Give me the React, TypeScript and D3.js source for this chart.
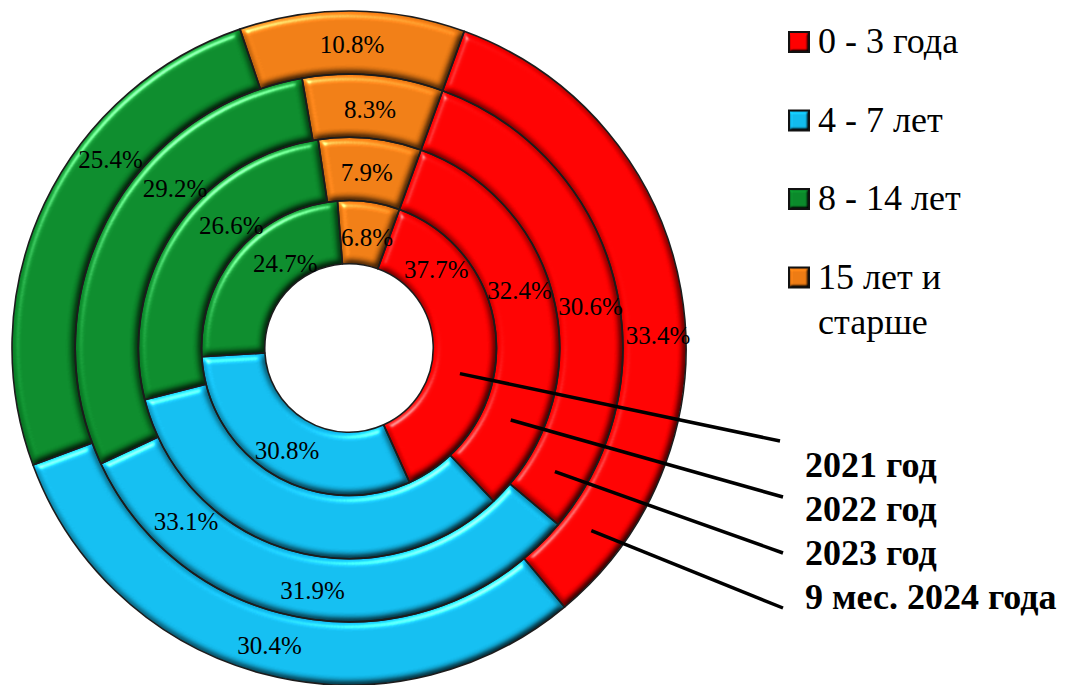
import React from 'react';
import * as d3 from 'd3';

// ---- data ----
const categories: string[] = ['0 - 3 года', '4 - 7 лет', '8 - 14 лет', '15 лет и старше'];
const years: string[] = ['2021 год', '2022 год', '2023 год', '9 мес. 2024 года'];
const values2021: number[] = [37.7, 30.8, 24.7, 6.8];
const values2022: number[] = [32.4, 33.1, 26.6, 7.9];
const values2023: number[] = [30.6, 31.9, 29.2, 8.3];
const values2024: number[] = [33.4, 30.4, 25.4, 10.8];
const seriesValues: number[][] = [values2021, values2022, values2023, values2024];

// ---- layout / style ----
const W = 1068;
const H = 685;
const CX = 349;
const CY = 348;
const R_OUT = 337;
const HOLE = 0.25;
const FIRST_ANGLE = 20; // degrees
const colors = ['#FF0000', '#12BCEE', '#0B8A2B', '#EE7C14'];
const FONT = '"Liberation Serif", "Times New Roman", serif';

// label nudges relative to the arc centroid: [deg, px] per ring, per category
const labelNudge: [number, number][][] = [
  [[-40, 2], [0, 4], [12, -10], [1.5, -4]],
  [[-7, 1], [27, 59], [12.5, -9], [0, -2]],
  [[5, 3], [1, 3], [15, -6], [0, -3]],
  [[7.5, 4], [0, 2], [13, -1], [0, -2]],
];
// leader lines: angle (deg) on the ring and end point
const leaderStart: number[] = [103, 114, 121, 127];
const leaderEnd: [number, number][] = [[780, 441], [783, 497], [783, 553], [783, 608]];
const yearLabelX = 805;
const yearLabelY: number[] = [477, 521, 565, 609];

const rad = (d: number) => (d * Math.PI) / 180;

function wrap(s: string, maxChars: number): string[] {
  const words = s.split(' ');
  const lines: string[] = [];
  let cur = '';
  for (const w of words) {
    const t = cur ? cur + ' ' + w : w;
    if (t.length > maxChars && cur) {
      lines.push(cur);
      cur = w;
    } else cur = t;
  }
  if (cur) lines.push(cur);
  return lines;
}

export default function App() {
  const hole = R_OUT * HOLE;
  const ringW = (R_OUT - hole) / seriesValues.length;
  const pie = d3
    .pie<number>()
    .sort(null)
    .value((d) => d)
    .startAngle(rad(FIRST_ANGLE))
    .endAngle(rad(FIRST_ANGLE + 360));

  const rings = seriesValues.map((vals, i) => {
    const inner = hole + i * ringW;
    const outer = inner + ringW;
    const arc = d3.arc<d3.PieArcDatum<number>>().innerRadius(inner).outerRadius(outer);
    return { inner, outer, arc, slices: pie(vals) };
  });

  const fmt = d3.format('.1f');

  return (
    <svg
      width={W}
      height={H}
      style={{ position: 'absolute', left: 0, top: 0, background: '#fff' }}
      fontFamily={FONT}
    >
      <defs>
        <filter id="bevel" x="-5%" y="-5%" width="110%" height="110%" colorInterpolationFilters="sRGB">
          <feGaussianBlur in="SourceAlpha" stdDeviation="3.5" result="blur" />
          <feDiffuseLighting in="blur" surfaceScale="5" diffuseConstant="1" lightingColor="#ffffff" result="diff">
            <feDistantLight azimuth="235" elevation="60" />
          </feDiffuseLighting>
          <feComposite in="SourceGraphic" in2="diff" operator="arithmetic" k1="1.155" k2="0" k3="0" k4="0" result="lit" />
          <feSpecularLighting in="blur" surfaceScale="5" specularConstant="0.55" specularExponent="30" lightingColor="#ffffff" result="spec">
            <feDistantLight azimuth="235" elevation="35" />
          </feSpecularLighting>
          <feComposite in="spec" in2="SourceAlpha" operator="in" result="specIn" />
          <feComposite in="lit" in2="specIn" operator="arithmetic" k1="0" k2="1" k3="1" k4="0" result="sum" />
          <feComposite in="sum" in2="SourceAlpha" operator="in" />
        </filter>
        <filter id="bevelSmall" x="-10%" y="-10%" width="120%" height="120%" colorInterpolationFilters="sRGB">
          <feGaussianBlur in="SourceAlpha" stdDeviation="1.5" result="blur" />
          <feDiffuseLighting in="blur" surfaceScale="4" diffuseConstant="1" lightingColor="#ffffff" result="diff">
            <feDistantLight azimuth="235" elevation="60" />
          </feDiffuseLighting>
          <feComposite in="SourceGraphic" in2="diff" operator="arithmetic" k1="1.155" k2="0" k3="0" k4="0" result="lit" />
          <feComposite in="lit" in2="SourceAlpha" operator="in" />
        </filter>
      </defs>

      <g transform={`translate(${CX},${CY})`}>
        {rings.map((ring, ri) =>
          ring.slices.map((s, ci) => (
            <path key={`f${ri}-${ci}`} d={ring.arc(s) || ''} fill={colors[ci]} filter="url(#bevel)" />
          ))
        )}
        {rings.map((ring, ri) =>
          ring.slices.map((s, ci) => (
            <path
              key={`s${ri}-${ci}`}
              d={ring.arc(s) || ''}
              fill="none"
              stroke="#1c1c1c"
              strokeWidth={1.6}
              strokeLinejoin="round"
            />
          ))
        )}
        {rings.map((ring, ri) =>
          ring.slices.map((s, ci) => {
            const mid = (s.startAngle + s.endAngle) / 2 + rad(labelNudge[ri][ci][0]);
            const r = (ring.inner + ring.outer) / 2 + labelNudge[ri][ci][1];
            const [x, y] = d3.pointRadial(mid, r);
            return (
              <text
                key={`t${ri}-${ci}`}
                x={x}
                y={y}
                dy="0.35em"
                textAnchor="middle"
                fontSize={25}
                fill="#000"
              >
                {fmt(s.data)}%
              </text>
            );
          })
        )}
        {rings.map((ring, ri) => {
          const [x1, y1] = d3.pointRadial(rad(leaderStart[ri]), (ring.inner + ring.outer) / 2 - 2);
          return (
            <line
              key={`l${ri}`}
              x1={x1}
              y1={y1}
              x2={leaderEnd[ri][0] - CX}
              y2={leaderEnd[ri][1] - CY}
              stroke="#000"
              strokeWidth={3.5}
            />
          );
        })}
      </g>

      {years.map((y, i) => (
        <text key={`y${i}`} x={yearLabelX} y={yearLabelY[i]} fontSize={36} fontWeight="bold" fill="#000">
          {y}
        </text>
      ))}

      <g>
        {categories.map((c, i) => {
          const y0 = 53 + i * 78.5;
          const lines = wrap(c, 10);
          return (
            <g key={`lg${i}`}>
              <rect x={789} y={y0 - 21} width={20} height={20} fill={colors[i]} filter="url(#bevelSmall)" />
              <rect x={789} y={y0 - 21} width={20} height={20} fill="none" stroke="#111" strokeWidth={2} />
              {lines.map((ln, k) => (
                <text key={k} x={818} y={y0 + k * 45} fontSize={36} fill="#000">
                  {ln}
                </text>
              ))}
            </g>
          );
        })}
      </g>
    </svg>
  );
}
